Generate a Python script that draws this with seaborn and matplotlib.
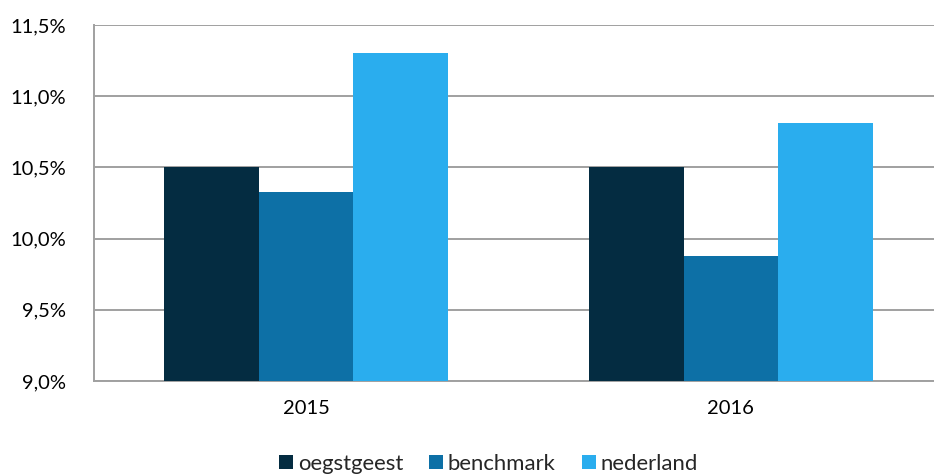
import matplotlib
matplotlib.use("Agg")
import matplotlib.pyplot as plt
import seaborn as sns
import pandas as pd
from matplotlib.ticker import FuncFormatter

years = ["2015", "2016"]
series = ["oegstgeest", "benchmark", "nederland"]
oegstgeest = [10.50, 10.50]
benchmark = [10.33, 9.88]
nederland = [11.30, 10.81]
colors = ["#042C41", "#0D70A6", "#2AADEE"]

df = pd.DataFrame({
    "jaar": years * 3,
    "reeks": [s for s in series for _ in years],
    "waarde": oegstgeest + benchmark + nederland,
})

sns.set_theme(style="white")
plt.rcParams["font.family"] = ["Lato", "DejaVu Sans"]

fig = plt.figure(figsize=(9.34, 4.75), dpi=100)
ax = fig.add_axes([93.5 / 934, 1 - 381 / 475, 1 - 93.5 / 934, (381 - 25) / 475])

sns.barplot(data=df, x="jaar", y="waarde", hue="reeks", hue_order=series,
            palette=colors, width=0.667, saturation=1, ax=ax, legend=True,
            linewidth=0, zorder=3)

ax.set_ylim(9.0, 11.5)
ax.set_xlim(-0.5, 1.478)
ax.set_yticks([9.0, 9.5, 10.0, 10.5, 11.0, 11.5])
ax.yaxis.set_major_formatter(FuncFormatter(lambda v, _: f"{v:.1f}%".replace(".", ",")))
ax.grid(axis="y", color="#A0A0A0", linewidth=1.4, zorder=0)
ax.set_axisbelow(True)
ax.set_xlabel("")
ax.set_ylabel("")
ax.tick_params(axis="both", length=0, labelsize=14.5, colors="#000000")
ax.tick_params(axis="y", pad=20)
ax.tick_params(axis="x", pad=14)

for side in ["top", "right"]:
    ax.spines[side].set_visible(False)
for side in ["left", "bottom"]:
    ax.spines[side].set_color("#A0A0A0")
    ax.spines[side].set_linewidth(1.4)

handles, labels = ax.get_legend_handles_labels()
ax.legend(handles, labels, loc="center", bbox_to_anchor=(488.5 / 934, 1 - 464 / 475),
          bbox_transform=fig.transFigure, ncol=3, frameon=False, fontsize=15.9,
          handlelength=0.63, handleheight=0.63, handletextpad=0.22, columnspacing=1.17)

fig.savefig("out.png", dpi=100)
